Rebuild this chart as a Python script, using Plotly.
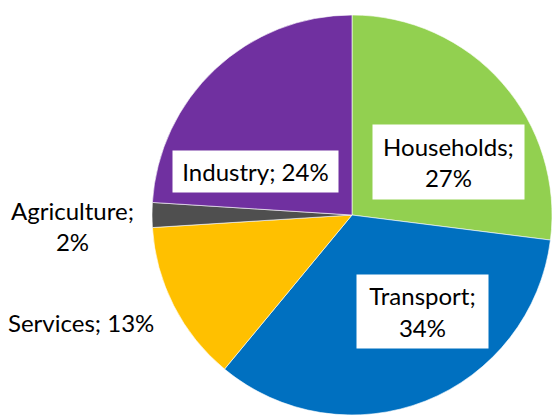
import plotly.graph_objects as go

sectors = ["Households", "Transport", "Services", "Agriculture", "Industry"]
shares = [27, 34, 13, 2, 24]
colors = ["#92D050", "#0070C0", "#FFC000", "#4F4F4F", "#7030A0"]

W, H = 552, 416

# pie centre / radius in pixels
CX, CY, R = 352, 215, 200

fig = go.Figure(go.Pie(
    labels=sectors,
    values=shares,
    sort=False,
    direction="clockwise",
    rotation=0,
    marker=dict(colors=colors, line=dict(color="white", width=0.6)),
    textinfo="none",
    hoverinfo="label+percent",
    domain=dict(x=[(CX - R) / W, min(1.0, (CX + R) / W)],
                y=[max(0.0, 1 - (CY + R) / H), 1 - (CY - R) / H]),
    showlegend=False,
))

FONT = dict(family="Lato, Roboto, sans-serif", size=24, color="#000000")

def px(x, y):
    return x / W, 1 - y / H

# (label index, centre px x, centre px y, boxed, box w, box h, two lines)
label_specs = [
    (0, 448.5, 162, True, 151, 74, True),
    (1, 422.5, 311.5, True, 131, 73, True),
    (2, 81, 322, False, None, None, False),
    (3, 72, 226, False, None, None, True),
    (4, 255.5, 171.5, True, 165, 41, False),
]

annotations = []
for i, lx, ly, boxed, bw, bh, two in label_specs:
    sep = ";<br>" if two else "; "
    text = f"{sectors[i]}{sep}{shares[i]}%"
    x, y = px(lx, ly)
    a = dict(text=text, x=x, y=y, xref="paper", yref="paper",
             xanchor="center", yanchor="middle", showarrow=False,
             font=FONT, align="center")
    if boxed:
        a.update(bgcolor="white", width=bw, height=bh, borderpad=0)
    annotations.append(a)

fig.update_layout(
    width=W, height=H,
    margin=dict(l=0, r=0, t=0, b=0),
    paper_bgcolor="white",
    plot_bgcolor="white",
    annotations=annotations,
)

fig.write_html(
    "out.html",
    config={"displayModeBar": False},
    post_script="document.body.style.margin='0';document.body.style.overflow='hidden';",
)
